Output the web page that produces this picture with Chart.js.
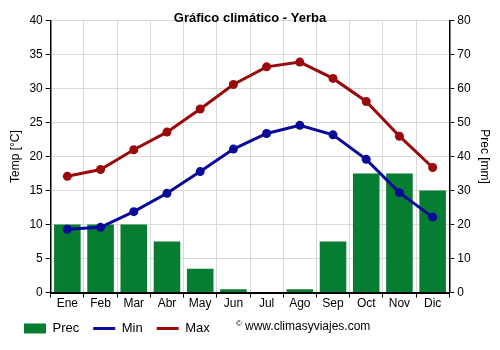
<!DOCTYPE html>
<html lang="es">
<head>
<meta charset="UTF-8">
<title>Gráfico climático - Yerba</title>
<script src="https://cdn.jsdelivr.net/npm/chart.js"></script>
<style>
    html, body { margin: 0; padding: 0; background: #fff; }
    #wrap { width: 500px; height: 350px; }
</style>
</head>
<body>
<div id="wrap"><canvas id="clima" width="500" height="350"></canvas></div>
<script>
// datos del gráfico
const meses = ['Ene', 'Feb', 'Mar', 'Abr', 'May', 'Jun', 'Jul', 'Ago', 'Sep', 'Oct', 'Nov', 'Dic'];
const prec = [20, 20, 20, 15, 7, 1, 0, 1, 15, 35, 35, 30];
const tMin = [9.3, 9.6, 11.9, 14.6, 17.8, 21.1, 23.4, 24.6, 23.2, 19.6, 14.7, 11.1];
const tMax = [17.1, 18.1, 21.0, 23.6, 27.0, 30.6, 33.2, 33.9, 31.5, 28.1, 23.0, 18.4];

const fuente = "'Liberation Sans', Arial, sans-serif";

// texto de copyright junto a la leyenda
const copyright = {
    id: 'copyright',
    afterDraw(chart) {
        const ctx = chart.ctx;
        ctx.save();
        ctx.fillStyle = '#000';
        ctx.font = '8px ' + fuente;
        ctx.textBaseline = 'middle';
        ctx.fillText('©', 236, 324);
        ctx.font = '12px ' + fuente;
        ctx.fillText('www.climasyviajes.com', 245, 327);
        ctx.restore();
    }
};

// mover un poco la leyenda para que quede como en el original
const moverLeyenda = {
    id: 'moverLeyenda',
    afterLayout(chart) {
        const lg = chart.legend;
        if (!lg) return;
        lg.left += 6;
        lg.right += 6;
        lg.top -= 2;
        lg.bottom -= 2;
    }
};

new Chart(document.getElementById('clima'), {
    data: {
        labels: meses,
        datasets: [
            {
                type: 'bar',
                label: 'Prec',
                data: prec,
                yAxisID: 'y2',
                backgroundColor: '#077d32',
                borderWidth: 0,
                categoryPercentage: 1,
                barPercentage: 0.8,
                order: 2
            },
            {
                type: 'line',
                label: 'Min',
                data: tMin,
                yAxisID: 'y',
                borderColor: '#0a0a9a',
                backgroundColor: '#0a0a9a',
                borderWidth: 3,
                pointRadius: 4.5,
                pointBorderWidth: 0,
                pointHoverRadius: 4.5,
                order: 1
            },
            {
                type: 'line',
                label: 'Max',
                data: tMax,
                yAxisID: 'y',
                borderColor: '#9a0a0a',
                backgroundColor: '#9a0a0a',
                borderWidth: 3,
                pointRadius: 4.5,
                pointBorderWidth: 0,
                pointHoverRadius: 4.5,
                order: 0
            }
        ]
    },
    options: {
        responsive: false,
        animation: false,
        layout: { padding: { left: 4, right: 4, top: 0, bottom: 3 } },
        plugins: {
            title: {
                display: true,
                text: 'Gráfico climático - Yerba',
                color: '#000',
                font: { family: fuente, size: 13, weight: 'bold' },
                padding: { top: 11, bottom: -6 }
            },
            legend: {
                position: 'bottom',
                align: 'start',
                labels: {
                    color: '#000',
                    font: { family: fuente, size: 13 },
                    usePointStyle: true,
                    pointStyleWidth: 22,
                    boxWidth: 22,
                    boxHeight: 10,
                    padding: 14,
                    sort: (a, b) => a.datasetIndex - b.datasetIndex,
                    generateLabels(chart) {
                        const base = Chart.defaults.plugins.legend.labels.generateLabels(chart);
                        return base.map(l => {
                            const ds = chart.data.datasets[l.datasetIndex];
                            l.fillStyle = ds.backgroundColor;
                            l.strokeStyle = ds.type === 'bar' ? ds.backgroundColor : ds.borderColor;
                            l.pointStyle = ds.type === 'bar' ? 'rect' : 'line';
                            l.lineWidth = ds.type === 'bar' ? 0 : 3;
                            return l;
                        });
                    }
                }
            },
            tooltip: { enabled: false }
        },
        scales: {
            x: {
                offset: true,
                grid: { color: '#d9d9d9', offset: true, tickColor: '#000', tickLength: 5 },
                border: { color: '#000', width: 2 },
                ticks: { color: '#000', font: { family: fuente, size: 12 }, padding: -1 }
            },
            y: {
                position: 'left',
                min: 0,
                max: 40,
                ticks: { stepSize: 5, color: '#000', font: { family: fuente, size: 12 } },
                grid: { color: '#d9d9d9', tickColor: '#000', tickLength: 5 },
                border: { color: '#000', width: 1.5 },
                title: { display: true, text: 'Temp [°C]', color: '#000', font: { family: fuente, size: 12 } }
            },
            y2: {
                position: 'right',
                min: 0,
                max: 80,
                ticks: { stepSize: 10, color: '#000', font: { family: fuente, size: 12 } },
                grid: { drawOnChartArea: false, tickColor: '#000', tickLength: 5 },
                border: { color: '#000', width: 1.5 },
                title: { display: true, text: 'Prec [mm]', color: '#000', font: { family: fuente, size: 12 } }
            }
        }
    },
    plugins: [copyright, moverLeyenda]
});
</script>
</body>
</html>
